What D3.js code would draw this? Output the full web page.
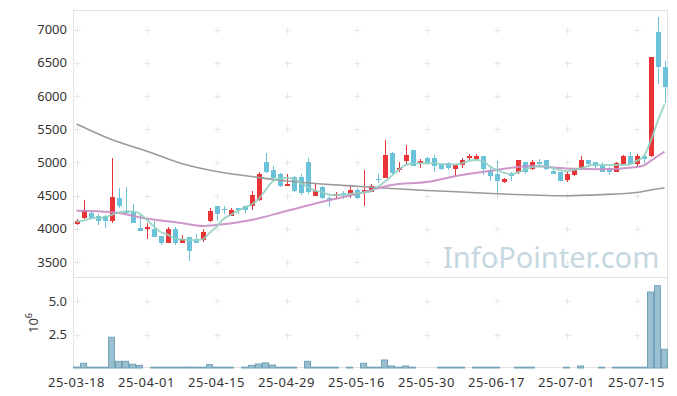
<!DOCTYPE html>
<html><head><meta charset="utf-8">
<script src="https://cdn.jsdelivr.net/npm/d3@7/dist/d3.min.js"></script>
<style>body{margin:0;background:#fff}svg{display:block;font-family:"Noto Sans",sans-serif}</style>
</head><body><svg id="c" width="677" height="396"></svg>
<script>
const dates = ["25-03-18","25-03-19","25-03-20","25-03-21","25-03-24","25-03-25","25-03-26","25-03-27","25-03-28","25-03-31",
"25-04-01","25-04-02","25-04-03","25-04-04","25-04-07","25-04-08","25-04-09","25-04-10","25-04-11","25-04-14",
"25-04-15","25-04-16","25-04-17","25-04-18","25-04-21","25-04-22","25-04-23","25-04-24","25-04-25","25-04-28",
"25-04-29","25-04-30","25-05-02","25-05-07","25-05-08","25-05-09","25-05-12","25-05-13","25-05-14","25-05-15",
"25-05-16","25-05-19","25-05-20","25-05-21","25-05-22","25-05-23","25-05-26","25-05-27","25-05-28","25-05-29",
"25-05-30","25-06-02","25-06-04","25-06-05","25-06-09","25-06-10","25-06-11","25-06-12","25-06-13","25-06-16",
"25-06-17","25-06-18","25-06-19","25-06-20","25-06-23","25-06-24","25-06-25","25-06-26","25-06-27","25-06-30",
"25-07-01","25-07-02","25-07-03","25-07-04","25-07-07","25-07-08","25-07-09","25-07-10","25-07-11","25-07-14",
"25-07-15","25-07-16","25-07-17","25-07-18","25-07-21"];
const open  = [4070,4170,4240,4190,4190,4120,4470,4270,4260,4010, 4000,3990,3890,3790,3990,3790,3880,3810,3830,4120,
               4340,4300,4200,4310,4340,4340,4440,5010,4890,4820, 4650,4780,4780,5000,4500,4630,4470,4500,4540,4520,
               4580,4550,4560,4750,4770,5140,4890,5020,5190,5000, 5060,5060,4970,4990,4900,4960,5060,5050,5100,4890,
               4820,4700,4820,4860,5000,4900,5000,5030,4870,4860, 4730,4810,4900,5040,5000,4960,4880,4860,4980,5100,
               4980,5100,5090,6960,6430];
const high  = [4140,4430,4270,4220,4210,5060,4610,4630,4370,4210, 4090,4110,3890,4030,4030,3910,3880,3920,3990,4310,
               4340,4350,4310,4320,4340,4570,4850,5140,4940,4840, 4820,4790,4820,5070,4670,4640,4500,4560,4570,4640,
               4610,4880,4670,4820,5340,5160,5010,5260,5190,5050, 5080,5110,4980,5000,4960,5060,5130,5120,5100,4940,
               5020,4770,4850,5040,5010,5040,5050,5040,4920,4860, 4870,4910,5100,5040,5010,5010,4930,5010,5110,5160,
               5130,5100,6590,7190,6520];
const low   = [4060,4150,4140,4050,4010,4090,4320,4230,4080,3965, 3840,3880,3760,3790,3760,3790,3510,3790,3800,4100,
               4120,4220,4200,4230,4240,4290,4420,4840,4720,4630, 4640,4560,4510,4530,4500,4450,4330,4450,4450,4460,
               4450,4340,4560,4690,4760,4830,4860,4960,4940,4920, 4980,4860,4890,4880,4790,4920,5040,5030,4810,4720,
               4520,4690,4720,4820,4830,4890,4950,4890,4820,4720, 4710,4800,4890,4940,4920,4850,4810,4850,4970,4960,
               4950,4990,5080,6180,5900];
const close = [4120,4280,4160,4110,4110,4480,4340,4240,4090,3970, 4020,3880,3780,4000,3790,3840,3670,3800,3950,4270,
               4230,4290,4290,4290,4280,4510,4820,4860,4760,4640, 4680,4570,4540,4560,4570,4460,4430,4530,4530,4580,
               4460,4580,4650,4740,5110,4840,4910,5110,4950,5020, 4990,4950,4900,4910,4960,5040,5090,5090,4900,4790,
               4720,4750,4810,5030,4850,5000,4990,4900,4830,4720, 4830,4890,5030,4970,4950,4860,4870,4990,5100,4970,
               5100,5050,6580,6440,6130];
// volume in millions of shares
const volume = [0.07,0.35,0.06,0.06,0.06,2.3,0.5,0.5,0.28,0.2, 0,0.06,0.06,0.06,0.06,0.06,0.07,0.06,0.06,0.25,
                0.06,0.06,0.06,0,0.06,0.2,0.3,0.38,0.22,0.06, 0.06,0.06,0,0.5,0.06,0.06,0.06,0.06,0,0.06,
                0,0.35,0.06,0.06,0.6,0.15,0.06,0.15,0.06,0, 0,0,0.06,0.06,0.06,0.06,0,0.06,0.06,0.06,
                0.06,0,0,0.06,0.06,0.06,0,0,0,0, 0.06,0,0.15,0,0,0.06,0,0.06,0.06,0.06,
                0.06,0.06,5.68,6.15,1.4];
const maShort = [4107,4125,4155,4163,4170,4208,4245,4260,4260,4230, 4140,4042,3952,3914,3854,3839,3831,3831,3842,3937,
                 4032,4148,4208,4268,4321,4366,4449,4584,4712,4758, 4765,4760,4690,4630,4577,4554,4517,4509,4509,4524,
                 4535,4547,4562,4630,4705,4795,4886,4961,4983,4986, 4986,4986,4976,4971,4968,4983,5021,5036,5021,4946,
                 4886,4848,4825,4848,4886,4926,4941,4941,4916,4886, 4866,4886,4911,4941,4968,4961,4961,4961,4961,4968,
                 5021,5086,5315,5613,5875];
const maMidIdx = [0,5,10,15,18,20,25,30,35,40,45,50,55,60,65,70,75,80,81,82,83,84];
const maMid    = [4273,4253,4155,4087,4042,4057,4132,4268,4404,4524,4660,4705,4810,4886,4946,4908,4896,4931,4951,5021,5092,5161];
const maLongIdx = [0,5,10,15,20,25,30,35,40,45,50,55,60,65,70,75,80,82,84];
const maLong    = [5578,5345,5172,4983,4863,4788,4720,4675,4640,4607,4577,4554,4527,4509,4498,4515,4547,4584,4614];
const tickIdx = [0,10,20,30,40,50,60,70,80];
const priceTicks = [3500,4000,4500,5000,5500,6000,6500,7000];
const volTicks = [2.5,5.0];

const svg = d3.select('#c');
const L = 73, R = 668, T = 10, MB = 277, VB = 368;
const x = d3.scaleBand().domain(d3.range(dates.length)).range([L, R]).paddingInner(2/7).paddingOuter(1/7);
const step = x.step();
const xc = i => x(i) + x.bandwidth() / 2;
const y = d3.scaleLinear().domain([3274, 7295]).range([MB, T]);
const yv = d3.scaleLinear().domain([0, 6.8]).range([VB, MB]);

// grid "+" markers
const grid = svg.append('g').attr('stroke', '#e6e6e6').attr('stroke-width', 1);
function plus(px, py) {
  grid.append('line').attr('x1', px - 3).attr('x2', px + 3).attr('y1', py).attr('y2', py);
  grid.append('line').attr('x1', px).attr('x2', px).attr('y1', py - 3).attr('y2', py + 3);
}
tickIdx.forEach(i => {
  priceTicks.forEach(p => plus(Math.round(xc(i)) + 0.5, Math.round(y(p)) + 0.5));
  volTicks.forEach(v => plus(Math.round(xc(i)) + 0.5, Math.round(yv(v)) + 0.5));
});

// watermark
svg.append('text').attr('x', 443).attr('y', 268).attr('font-size', 29).attr('fill', '#c5d7e0')
  .text('InfoPointer.com');

// frames
const fr = svg.append('g').attr('fill', 'none').attr('stroke', '#e2e2e2').attr('stroke-width', 1);
fr.append('rect').attr('x', L + 0.5).attr('y', T + 0.5).attr('width', R - L - 1).attr('height', MB - T);
fr.append('rect').attr('x', L + 0.5).attr('y', MB + 0.5).attr('width', R - L - 1).attr('height', VB - MB - 1);

// volume bars
svg.append('g').selectAll('rect').data(volume.map((v, i) => ({v, i})).filter(d => d.v > 0)).join('rect')
  .attr('x', d => x(d.i) - step * (1/7) + 0.5)
  .attr('width', step - 1)
  .attr('y', d => yv(d.v))
  .attr('height', d => Math.max(0.8, yv(0) - yv(d.v)))
  .attr('fill', '#9ac0d0').attr('stroke', '#73a3ba').attr('stroke-width', 1);

// candles
const up = '#ea3337', dn = '#6cc2d9';
const cg = svg.append('g').attr('shape-rendering', 'crispEdges');
dates.forEach((d, i) => {
  const col = close[i] >= open[i] ? up : dn;
  const cx = Math.round(xc(i)) + 0.5;
  cg.append('line').attr('x1', cx).attr('x2', cx).attr('y1', y(high[i])).attr('y2', y(low[i]))
    .attr('stroke', col).attr('stroke-width', 1);
  const top = y(Math.max(open[i], close[i])), bot = y(Math.min(open[i], close[i]));
  cg.append('rect').attr('x', cx - 2.5).attr('width', 5).attr('y', top).attr('height', Math.max(1.5, bot - top))
    .attr('fill', col);
});

// moving averages
const lineIdx = d3.line().x(d => xc(d[0])).y(d => y(d[1]));
svg.append('path').datum(maLongIdx.map((k, j) => [k, maLong[j]]))
  .attr('d', lineIdx.curve(d3.curveCatmullRom)).attr('fill', 'none').attr('stroke', '#9a9a9a').attr('stroke-width', 1.6);
svg.append('path').datum(maMidIdx.map((k, j) => [k, maMid[j]]))
  .attr('d', lineIdx.curve(d3.curveMonotoneX)).attr('fill', 'none').attr('stroke', '#c98cc4').attr('stroke-width', 2).attr('opacity', 0.9);
svg.append('path').datum(maShort.map((v, i) => [i, v]))
  .attr('d', lineIdx.curve(d3.curveMonotoneX)).attr('fill', 'none').attr('stroke', '#8fd0c1').attr('stroke-width', 2).attr('opacity', 0.85);

// axis labels
const lab = svg.append('g').attr('fill', '#333').attr('font-size', 13);
priceTicks.forEach(p => lab.append('text').attr('x', 67).attr('y', y(p)).attr('dy', '0.35em')
  .attr('text-anchor', 'end').text(p));
volTicks.forEach(v => lab.append('text').attr('x', 67).attr('y', yv(v)).attr('dy', '0.35em')
  .attr('text-anchor', 'end').text(v.toFixed(1)));
tickIdx.forEach(i => lab.append('text').attr('x', xc(i)).attr('y', 387).attr('text-anchor', 'middle')
  .attr('letter-spacing', 0.5).text(dates[i]));
const expo = lab.append('text').attr('transform', 'translate(38,333) rotate(-90)');
expo.append('tspan').text('10');
expo.append('tspan').attr('font-size', 9).attr('dy', -6).text('6');
</script></body></html>
